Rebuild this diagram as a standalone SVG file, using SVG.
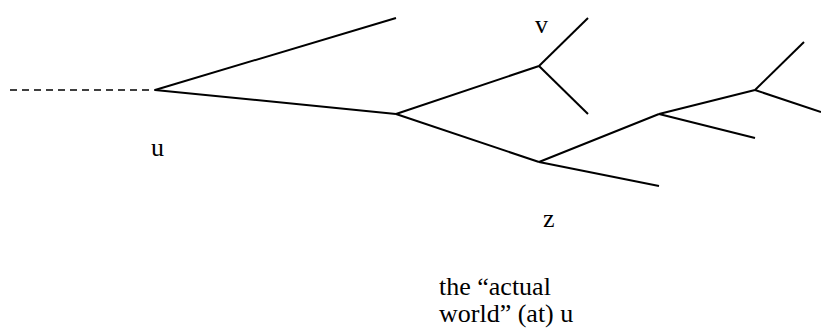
<svg xmlns="http://www.w3.org/2000/svg" width="821" height="329" viewBox="0 0 821 329">
<style>
.e{stroke:#000;stroke-width:2;fill:none;stroke-linecap:butt}
.d{stroke:#000;stroke-width:1.5;fill:none;stroke-dasharray:7,5}
.t{font-family:"Liberation Serif","Times New Roman",serif;font-size:26px;fill:#000}
</style>
<rect width="821" height="329" fill="#fff"/>
<g id="connectors">
<line class="d" x1="10" y1="90" x2="155" y2="90"/>
<line class="e" x1="155" y1="90" x2="396" y2="18"/>
<line class="e" x1="155" y1="90" x2="396" y2="114"/>
<line class="e" x1="396" y1="114" x2="539" y2="66"/>
<line class="e" x1="396" y1="114" x2="539" y2="162"/>
<line class="e" x1="539" y1="66" x2="588" y2="18"/>
<line class="e" x1="539" y1="66" x2="588" y2="114"/>
<line class="e" x1="539" y1="162" x2="659" y2="114"/>
<line class="e" x1="539" y1="162" x2="659" y2="186"/>
<line class="e" x1="659" y1="114" x2="755" y2="90"/>
<line class="e" x1="659" y1="114" x2="755" y2="138"/>
<line class="e" x1="755" y1="90" x2="804" y2="42"/>
<line class="e" x1="755" y1="90" x2="821" y2="112"/>
</g>
<g id="node-u"><text class="t" x="151" y="156">u</text></g>
<g id="node-v"><text class="t" x="535" y="33">v</text></g>
<g id="node-z"><text class="t" x="543" y="227">z</text></g>
<g id="label-actual"><text class="t" x="439" y="295">the “actual</text><text class="t" x="439" y="322">world” (at) u</text></g>
</svg>
